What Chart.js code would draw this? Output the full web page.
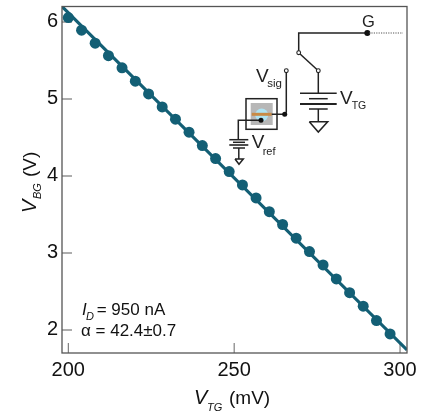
<!DOCTYPE html>
<html>
<head>
<meta charset="utf-8">
<style>
  html, body { margin: 0; padding: 0; background: #fff; }
  canvas { display: block; }
</style>
<script src="https://cdn.jsdelivr.net/npm/chart.js@4"></script>
</head>
<body>
<canvas id="myChart" width="428" height="413"></canvas>
<script>
// data
const vTG = [200, 204, 208.1, 212.1, 216.2, 220.2, 224.2, 228.3, 232.3, 236.4, 240.4, 244.4, 248.5,
  252.5, 256.6, 260.6, 264.6, 268.7, 272.7, 276.8, 280.8, 284.8, 288.9, 292.9, 297];
const vBG = [6.056, 5.892, 5.723, 5.562, 5.403, 5.230, 5.065, 4.896, 4.736, 4.568, 4.394, 4.225, 4.056,
  3.883, 3.714, 3.536, 3.369, 3.191, 3.017, 2.844, 2.662, 2.484, 2.308, 2.121, 1.948];
const fitX = [198.1, 302.1];
const fitY = [6.2, 1.74];

const teal = '#135f75';
const sans = '"Liberation Sans", Arial, sans-serif';
const ink = '#111';

function toPoints (xs, ys) {
  return xs.map((x, i) => ({ x: x, y: ys[i] }));
}

function label (ctx, str, x, y, size, style) {
  ctx.font = (style ? style + ' ' : '') + size + 'px ' + sans;
  ctx.fillText(str, x, y);
}

function wire (ctx, pts, width) {
  ctx.lineWidth = width || 1.5;
  ctx.beginPath();
  pts.forEach((p, i) => i ? ctx.lineTo(p[0], p[1]) : ctx.moveTo(p[0], p[1]));
  ctx.stroke();
}

function dot (ctx, x, y, r) {
  ctx.beginPath();
  ctx.arc(x, y, r, 0, Math.PI * 2);
  ctx.fill();
}

function openDot (ctx, x, y) {
  ctx.beginPath();
  ctx.arc(x, y, 1.9, 0, Math.PI * 2);
  ctx.fillStyle = '#fff';
  ctx.fill();
  ctx.lineWidth = 1.1;
  ctx.stroke();
  ctx.fillStyle = ink;
}

function drawSchematic (ctx) {
  ctx.strokeStyle = '#222';
  ctx.fillStyle = ink;

  // gate line
  wire(ctx, [[298.7, 52.7], [298.7, 33], [367.3, 33]]);
  dot(ctx, 367.3, 33, 3);
  ctx.save();
  ctx.setLineDash([1.2, 1.2]);
  ctx.strokeStyle = '#555';
  wire(ctx, [[369, 33], [403, 33]], 1.1);
  ctx.restore();

  // switch and top gate source
  wire(ctx, [[298.7, 52.7], [318.3, 70.7]]);
  wire(ctx, [[318.3, 70.7], [318.3, 93.3]]);
  openDot(ctx, 298.7, 52.7);
  openDot(ctx, 318.3, 70.7);
  wire(ctx, [[300, 93.3], [336.7, 93.3]]);
  wire(ctx, [[309, 98.7], [327.7, 98.7]]);
  wire(ctx, [[300, 104], [336.7, 104]], 1.9);
  wire(ctx, [[309, 109], [327.7, 109]]);
  wire(ctx, [[318.3, 109], [318.3, 121.7]]);
  wire(ctx, [[309.3, 121.7], [327.7, 121.7], [318.3, 132], [309.3, 121.7]]);

  // device
  ctx.fillStyle = '#b7b7b7';
  ctx.fillRect(250.7, 103, 22, 22);
  ctx.fillStyle = '#aee3f2';
  dot(ctx, 261.7, 115, 6.5);
  ctx.fillStyle = '#c98a45';
  ctx.fillRect(251.7, 112.8, 20, 3);
  ctx.fillStyle = ink;
  ctx.lineWidth = 1.5;
  ctx.strokeRect(246, 98.7, 31, 30.6);

  // signal line
  wire(ctx, [[271.7, 114.3], [284.7, 114.3], [286.3, 112], [286.3, 70.7]]);
  dot(ctx, 284.7, 114.3, 2.5);
  openDot(ctx, 286.3, 70.7);

  // reference source
  wire(ctx, [[261, 120.3], [238.3, 120.3], [238.3, 139.7]]);
  dot(ctx, 261, 120.3, 2.5);
  wire(ctx, [[229.3, 139.7], [248.3, 139.7]]);
  wire(ctx, [[233, 142.3], [245, 142.3]]);
  wire(ctx, [[229.3, 145], [248.3, 145]], 1.6);
  wire(ctx, [[233, 148], [245, 148]]);
  wire(ctx, [[238.8, 148], [238.8, 159]]);
  wire(ctx, [[235, 159], [243.3, 159], [239, 164.3], [235, 159]]);

  // labels
  ctx.fillStyle = '#222';
  label(ctx, 'G', 362, 27, 16.5);
  label(ctx, 'V', 340, 103.5, 19);
  label(ctx, 'TG', 351.7, 109, 10.5);
  label(ctx, 'V', 256, 81.7, 19);
  label(ctx, 'sig', 267.3, 87.3, 11.5);
  label(ctx, 'V', 251.7, 148.3, 19);
  label(ctx, 'ref', 262.7, 155, 11);
}

// inward ticks sit under the data, frame and mixed-style text on top
const decorations = {
  id: 'decorations',
  beforeDatasetsDraw (chart) {
    const ctx = chart.ctx;
    const area = chart.chartArea;
    const { x: xs, y: ys } = chart.scales;
    ctx.save();
    ctx.strokeStyle = '#999';
    ys.ticks.forEach(t => {
      const p = Math.round(ys.getPixelForValue(t.value));
      wire(ctx, [[area.left, p], [area.left + 10, p]], 1.6);
    });
    ctx.strokeStyle = '#666';
    xs.ticks.forEach(t => {
      const p = xs.getPixelForValue(t.value);
      wire(ctx, [[p, area.bottom], [p, area.bottom - 10]], 1);
    });
    ctx.restore();
  },
  afterDatasetsDraw (chart) {
    const ctx = chart.ctx;
    const area = chart.chartArea;
    ctx.save();
    ctx.textAlign = 'left';
    ctx.textBaseline = 'alphabetic';

    ctx.strokeStyle = '#555';
    ctx.lineWidth = 1.3;
    ctx.strokeRect(area.left, area.top, area.right - area.left, area.bottom - area.top);

    ctx.fillStyle = ink;
    label(ctx, 'I', 82, 315, 17, 'italic');
    label(ctx, 'D', 86, 320, 11, 'italic');
    label(ctx, '= 950 nA', 96.7, 315, 17);
    label(ctx, 'α = 42.4±0.7', 81, 336, 17);

    // x title
    label(ctx, 'V', 194, 404, 20, 'italic');
    label(ctx, 'TG', 207, 410.7, 11, 'italic');
    label(ctx, '(mV)', 229, 404, 19);

    // y title
    ctx.save();
    ctx.translate(36, 213);
    ctx.rotate(-Math.PI / 2);
    label(ctx, 'V', 0, 0, 20, 'italic');
    label(ctx, 'BG', 14, 4.7, 11, 'italic');
    label(ctx, '(V)', 36, 0, 19);
    ctx.restore();

    drawSchematic(ctx);
    ctx.restore();
  }
};

const ctxMain = document.getElementById('myChart').getContext('2d');

const config = {
  type: 'scatter',
  data: {
    datasets: [
      {
        label: 'fit',
        data: toPoints(fitX, fitY),
        showLine: true,
        borderColor: teal,
        borderWidth: 3.2,
        pointRadius: 0,
        order: 2
      },
      {
        label: 'data',
        data: toPoints(vTG, vBG),
        backgroundColor: teal,
        borderColor: teal,
        borderWidth: 0,
        pointRadius: 5.5,
        order: 1
      }
    ]
  },
  plugins: [decorations],
  options: {
    responsive: false,
    animation: false,
    layout: { padding: { top: 6.5, right: 21, left: 0, bottom: 0 } },
    plugins: { legend: { display: false }, tooltip: { enabled: false } },
    scales: {
      x: {
        type: 'linear',
        min: 198.1,
        max: 302.1,
        afterFit: (scale) => {
          scale.height = 60;
          scale.paddingLeft = 0;
          scale.paddingRight = 0;
        },
        grid: { display: false, drawTicks: false },
        border: { display: false },
        ticks: {
          stepSize: 50,
          includeBounds: false,
          maxRotation: 0,
          padding: 5,
          color: ink,
          font: { family: sans, size: 20 }
        }
      },
      y: {
        type: 'linear',
        min: 1.7,
        max: 6.2,
        afterFit: (scale) => {
          scale.width = 62;
          scale.paddingTop = 0;
          scale.paddingBottom = 0;
        },
        grid: { display: false, drawTicks: false },
        border: { display: false },
        ticks: {
          stepSize: 1,
          includeBounds: false,
          padding: 4,
          color: ink,
          font: { family: sans, size: 20 }
        }
      }
    }
  }
};

const myChart = new Chart(ctxMain, config);
</script>
</body>
</html>
